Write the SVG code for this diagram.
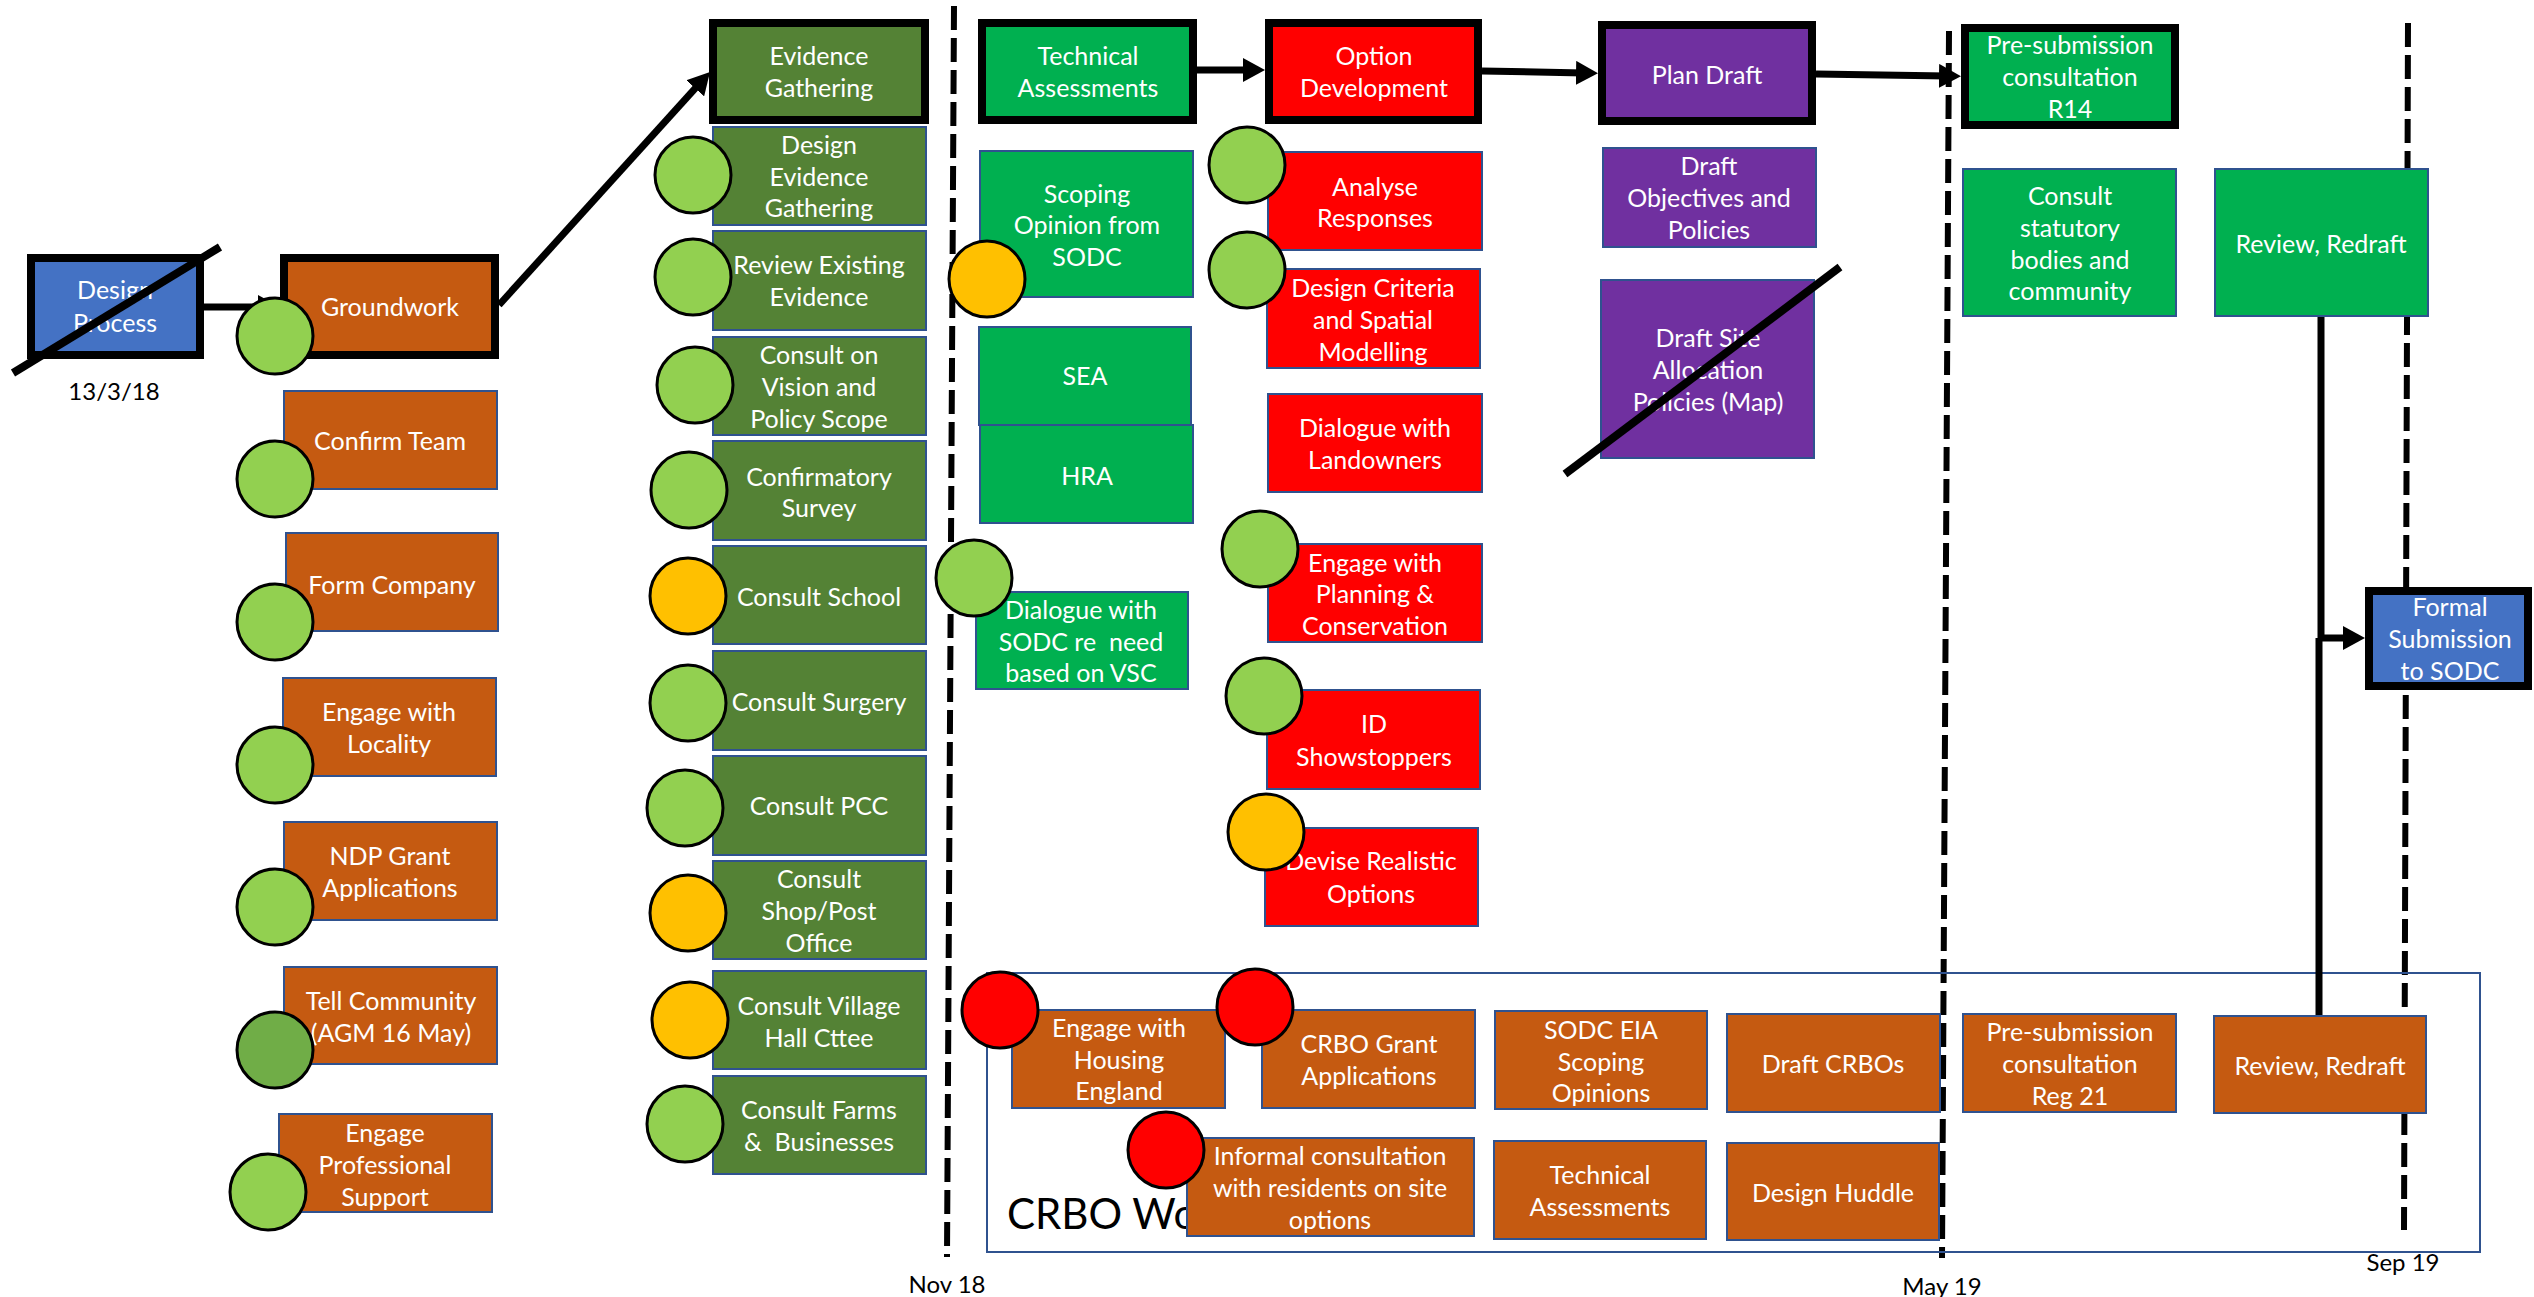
<svg xmlns="http://www.w3.org/2000/svg" width="2534" height="1297" viewBox="0 0 2534 1297">
<style>
.thick{stroke:#000;stroke-width:8}
.sub{stroke:#2F528F;stroke-width:2}
.dot{stroke:#000;stroke-width:3}
.or{fill:#C55A11}.dg{fill:#548235}.gr{fill:#00B050}.rd{fill:#FF0000}.pu{fill:#7030A0}.bl{fill:#4472C4}
.cg{fill:#92D050}.cdg{fill:#70AD47}.co{fill:#FFC000}.cr{fill:#FF0000}
.t{fill:#fff;font-family:Lato,'Open Sans','Liberation Sans',sans-serif;font-size:25px;text-anchor:middle;white-space:pre}
.lbl{fill:#000;font-family:Lato,'Open Sans','Liberation Sans',sans-serif;font-size:24px;text-anchor:middle}
.dash{stroke:#000;stroke-width:6;stroke-dasharray:24 8;fill:none}
.conn{stroke:#000;stroke-width:7;fill:none}
.strike{stroke:#000;stroke-width:8}
</style>
<defs>
<marker id="ah" markerUnits="userSpaceOnUse" markerWidth="22" markerHeight="24" viewBox="0 0 22 24" refX="8" refY="12" orient="auto"><path d="M0,0 L22,12 L0,24 z" fill="#000"/></marker>
</defs>
<rect width="2534" height="1297" fill="#fff"/>
<g id="timelines">
<line class="dash" x1="954" y1="6" x2="947" y2="1257"/>
<line class="dash" x1="1949" y1="31" x2="1942" y2="1258"/>
<line class="dash" x1="2408" y1="23" x2="2404" y2="1230"/>
<text class="lbl" x="114" y="400" font-size="25">13/3/18</text>
<text class="lbl" x="947" y="1293">Nov 18</text>
<text class="lbl" x="1942" y="1295">May 19</text>
<text class="lbl" x="2403" y="1271">Sep 19</text>
</g>
<g id="crbo-work">
<rect x="987" y="973" width="1493" height="279" fill="none" stroke="#2F528F" stroke-width="2"/>
<text x="1007" y="1229" font-family="Lato,'Open Sans','Liberation Sans',sans-serif" font-size="42" fill="#000">CRBO Wo</text>
</g>
<g id="connectors">
<line class="conn" x1="204" y1="307" x2="266" y2="307" marker-end="url(#ah)"/>
<line class="conn" x1="499" y1="305" x2="700.6" y2="82.4" marker-end="url(#ah)"/>
<line class="conn" x1="1197" y1="70" x2="1251" y2="70" marker-end="url(#ah)"/>
<line class="conn" x1="1482" y1="71" x2="1584" y2="73" marker-end="url(#ah)"/>
<line class="conn" x1="1816" y1="74" x2="1947" y2="76" marker-end="url(#ah)"/>
<path class="conn" d="M2321,316 V638 H2351" marker-end="url(#ah)"/>
<path class="conn" d="M2319,1016 V638"/>
</g>
<g id="design-process"><rect class="thick bl" x="31" y="258" width="169" height="97"/><text class="t"><tspan x="115" y="299">Design</tspan><tspan x="115" y="332">Process</tspan></text></g>
<g id="groundwork"><rect class="thick or" x="284" y="258" width="211" height="97"/><text class="t" x="390" y="316">Groundwork</text><circle class="dot cg" cx="275" cy="336" r="38"/></g>
<g id="confirm-team"><rect class="sub or" x="284" y="391" width="213" height="98"/><text class="t" x="390" y="450">Confirm Team</text><circle class="dot cg" cx="275" cy="479" r="38"/></g>
<g id="form-company"><rect class="sub or" x="286" y="533" width="212" height="98"/><text class="t" x="392" y="594">Form Company</text><circle class="dot cg" cx="275" cy="622" r="38"/></g>
<g id="engage-locality"><rect class="sub or" x="283" y="678" width="213" height="98"/><text class="t"><tspan x="389" y="721">Engage with</tspan><tspan x="389" y="753">Locality</tspan></text><circle class="dot cg" cx="275" cy="765" r="38"/></g>
<g id="ndp-grant"><rect class="sub or" x="284" y="822" width="213" height="98"/><text class="t"><tspan x="390" y="865">NDP Grant</tspan><tspan x="390" y="897">Applications</tspan></text><circle class="dot cg" cx="275" cy="907" r="38"/></g>
<g id="tell-community"><rect class="sub or" x="284" y="967" width="213" height="97"/><text class="t"><tspan x="391" y="1010">Tell Community</tspan><tspan x="391" y="1042">(AGM 16 May)</tspan></text><circle class="dot cdg" cx="275" cy="1050" r="38"/></g>
<g id="engage-professional"><rect class="sub or" x="279" y="1114" width="213" height="98"/><text class="t"><tspan x="385" y="1142">Engage</tspan><tspan x="385" y="1174">Professional</tspan><tspan x="385" y="1206">Support</tspan></text><circle class="dot cg" cx="268" cy="1192" r="38"/></g>
<g id="evidence-gathering"><rect class="thick dg" x="713" y="23" width="212" height="97"/><text class="t"><tspan x="819" y="65">Evidence</tspan><tspan x="819" y="97">Gathering</tspan></text></g>
<g id="design-evidence"><rect class="sub dg" x="713" y="127" width="213" height="98"/><text class="t"><tspan x="819" y="154">Design</tspan><tspan x="819" y="186">Evidence</tspan><tspan x="819" y="217">Gathering</tspan></text><circle class="dot cg" cx="693" cy="175" r="38"/></g>
<g id="review-existing"><rect class="sub dg" x="713" y="231" width="213" height="99"/><text class="t"><tspan x="819" y="274">Review Existing</tspan><tspan x="819" y="306">Evidence</tspan></text><circle class="dot cg" cx="693" cy="277" r="38"/></g>
<g id="consult-vision"><rect class="sub dg" x="713" y="337" width="213" height="98"/><text class="t"><tspan x="819" y="364">Consult on</tspan><tspan x="819" y="396">Vision and</tspan><tspan x="819" y="428">Policy Scope</tspan></text><circle class="dot cg" cx="695" cy="385" r="38"/></g>
<g id="confirmatory-survey"><rect class="sub dg" x="713" y="441" width="213" height="99"/><text class="t"><tspan x="819" y="486">Confirmatory</tspan><tspan x="819" y="517">Survey</tspan></text><circle class="dot cg" cx="689" cy="490" r="38"/></g>
<g id="consult-school"><rect class="sub dg" x="713" y="546" width="213" height="98"/><text class="t" x="819" y="606">Consult School</text><circle class="dot co" cx="688" cy="596" r="38"/></g>
<g id="consult-surgery"><rect class="sub dg" x="713" y="651" width="213" height="99"/><text class="t" x="819" y="711">Consult Surgery</text><circle class="dot cg" cx="688" cy="703" r="38"/></g>
<g id="consult-pcc"><rect class="sub dg" x="713" y="756" width="213" height="99"/><text class="t" x="819" y="815">Consult PCC</text><circle class="dot cg" cx="685" cy="808" r="38"/></g>
<g id="consult-shop"><rect class="sub dg" x="713" y="861" width="213" height="98"/><text class="t"><tspan x="819" y="888">Consult</tspan><tspan x="819" y="920">Shop/Post</tspan><tspan x="819" y="952">Office</tspan></text><circle class="dot co" cx="688" cy="913" r="38"/></g>
<g id="consult-village-hall"><rect class="sub dg" x="713" y="971" width="213" height="98"/><text class="t"><tspan x="819" y="1015">Consult Village</tspan><tspan x="819" y="1047">Hall Cttee</tspan></text><circle class="dot co" cx="690" cy="1020" r="38"/></g>
<g id="consult-farms"><rect class="sub dg" x="713" y="1076" width="213" height="98"/><text class="t"><tspan x="819" y="1119">Consult Farms</tspan><tspan x="819" y="1151">&amp;  Businesses</tspan></text><circle class="dot cg" cx="685" cy="1124" r="38"/></g>
<g id="technical-assessments"><rect class="thick gr" x="982" y="23" width="211" height="97"/><text class="t"><tspan x="1088" y="65">Technical</tspan><tspan x="1088" y="97">Assessments</tspan></text></g>
<g id="scoping-opinion"><rect class="sub gr" x="980" y="151" width="213" height="146"/><text class="t"><tspan x="1087" y="203">Scoping</tspan><tspan x="1087" y="234">Opinion from</tspan><tspan x="1087" y="266">SODC</tspan></text><circle class="dot co" cx="987" cy="279" r="38"/></g>
<g id="sea"><rect class="sub gr" x="979" y="327" width="212" height="98"/><text class="t" x="1085" y="385">SEA</text></g>
<g id="hra"><rect class="sub gr" x="980" y="425" width="213" height="98"/><text class="t" x="1087" y="485">HRA</text></g>
<g id="dialogue-sodc"><rect class="sub gr" x="976" y="592" width="212" height="97"/><text class="t"><tspan x="1081" y="619">Dialogue with</tspan><tspan x="1081" y="651">SODC re  need</tspan><tspan x="1081" y="682">based on VSC</tspan></text><circle class="dot cg" cx="974" cy="578" r="38"/></g>
<g id="option-development"><rect class="thick rd" x="1269" y="23" width="209" height="97"/><text class="t"><tspan x="1374" y="65">Option</tspan><tspan x="1374" y="97">Development</tspan></text></g>
<g id="analyse-responses"><rect class="sub rd" x="1268" y="152" width="214" height="98"/><text class="t"><tspan x="1375" y="196">Analyse</tspan><tspan x="1375" y="227">Responses</tspan></text><circle class="dot cg" cx="1247" cy="165" r="38"/></g>
<g id="design-criteria"><rect class="sub rd" x="1267" y="269" width="213" height="99"/><text class="t"><tspan x="1373" y="297">Design Criteria</tspan><tspan x="1373" y="329">and Spatial</tspan><tspan x="1373" y="361">Modelling</tspan></text><circle class="dot cg" cx="1247" cy="270" r="38"/></g>
<g id="dialogue-landowners"><rect class="sub rd" x="1268" y="394" width="214" height="98"/><text class="t"><tspan x="1375" y="437">Dialogue with</tspan><tspan x="1375" y="469">Landowners</tspan></text></g>
<g id="engage-planning"><rect class="sub rd" x="1268" y="544" width="214" height="98"/><text class="t"><tspan x="1375" y="572">Engage with</tspan><tspan x="1375" y="603">Planning &amp;</tspan><tspan x="1375" y="635">Conservation</tspan></text><circle class="dot cg" cx="1260" cy="549" r="38"/></g>
<g id="id-showstoppers"><rect class="sub rd" x="1267" y="690" width="213" height="99"/><text class="t"><tspan x="1374" y="733">ID</tspan><tspan x="1374" y="766">Showstoppers</tspan></text><circle class="dot cg" cx="1264" cy="696" r="38"/></g>
<g id="devise-options"><rect class="sub rd" x="1265" y="828" width="213" height="98"/><text class="t"><tspan x="1371" y="870">Devise Realistic</tspan><tspan x="1371" y="903">Options</tspan></text><circle class="dot co" cx="1266" cy="832" r="38"/></g>
<g id="plan-draft"><rect class="thick pu" x="1602" y="25" width="210" height="96"/><text class="t" x="1707" y="84">Plan Draft</text></g>
<g id="draft-objectives"><rect class="sub pu" x="1603" y="148" width="213" height="99"/><text class="t"><tspan x="1709" y="175">Draft</tspan><tspan x="1709" y="207">Objectives and</tspan><tspan x="1709" y="239">Policies</tspan></text></g>
<g id="draft-site-allocation"><rect class="sub pu" x="1601" y="280" width="213" height="178"/><text class="t"><tspan x="1708" y="347">Draft Site</tspan><tspan x="1708" y="379">Allocation</tspan><tspan x="1708" y="411">Policies (Map)</tspan></text></g>
<g id="presub-r14"><rect class="thick gr" x="1965" y="28" width="210" height="97"/><text class="t"><tspan x="2070" y="54">Pre-submission</tspan><tspan x="2070" y="86">consultation</tspan><tspan x="2070" y="118">R14</tspan></text></g>
<g id="consult-statutory"><rect class="sub gr" x="1963" y="169" width="213" height="147"/><text class="t"><tspan x="2070" y="205">Consult</tspan><tspan x="2070" y="237">statutory</tspan><tspan x="2070" y="269">bodies and</tspan><tspan x="2070" y="300">community</tspan></text></g>
<g id="review-redraft-green"><rect class="sub gr" x="2215" y="169" width="213" height="147"/><text class="t" x="2321" y="253">Review, Redraft</text></g>
<g id="formal-submission"><rect class="thick bl" x="2369" y="591" width="159" height="95"/><text class="t"><tspan x="2450" y="616">Formal</tspan><tspan x="2450" y="648">Submission</tspan><tspan x="2450" y="680">to SODC</tspan></text></g>
<g id="engage-housing"><rect class="sub or" x="1012" y="1010" width="213" height="98"/><text class="t"><tspan x="1119" y="1037">Engage with</tspan><tspan x="1119" y="1069">Housing</tspan><tspan x="1119" y="1100">England</tspan></text><circle class="dot cr" cx="1000" cy="1010" r="38"/></g>
<g id="crbo-grant"><rect class="sub or" x="1262" y="1010" width="213" height="98"/><text class="t"><tspan x="1369" y="1053">CRBO Grant</tspan><tspan x="1369" y="1085">Applications</tspan></text><circle class="dot cr" cx="1255" cy="1007" r="38"/></g>
<g id="informal-consultation"><rect class="sub or" x="1187" y="1138" width="287" height="98"/><text class="t"><tspan x="1330" y="1165">Informal consultation</tspan><tspan x="1330" y="1197">with residents on site</tspan><tspan x="1330" y="1229">options</tspan></text><circle class="dot cr" cx="1166" cy="1150" r="38"/></g>
<g id="sodc-eia"><rect class="sub or" x="1495" y="1011" width="212" height="98"/><text class="t"><tspan x="1601" y="1039">SODC EIA</tspan><tspan x="1601" y="1071">Scoping</tspan><tspan x="1601" y="1102">Opinions</tspan></text></g>
<g id="technical-assessments-crbo"><rect class="sub or" x="1494" y="1141" width="212" height="98"/><text class="t"><tspan x="1600" y="1184">Technical</tspan><tspan x="1600" y="1216">Assessments</tspan></text></g>
<g id="draft-crbos"><rect class="sub or" x="1727" y="1014" width="213" height="98"/><text class="t" x="1833" y="1073">Draft CRBOs</text></g>
<g id="design-huddle"><rect class="sub or" x="1727" y="1143" width="212" height="97"/><text class="t" x="1833" y="1202">Design Huddle</text></g>
<g id="presub-reg21"><rect class="sub or" x="1963" y="1014" width="213" height="98"/><text class="t"><tspan x="2070" y="1041">Pre-submission</tspan><tspan x="2070" y="1073">consultation</tspan><tspan x="2070" y="1105">Reg 21</tspan></text></g>
<g id="review-redraft-orange"><rect class="sub or" x="2214" y="1016" width="212" height="97"/><text class="t" x="2320" y="1075">Review, Redraft</text></g>
<g id="strikes">
<line class="strike" x1="13" y1="373" x2="220" y2="247"/>
<line class="strike" x1="1565" y1="474" x2="1840" y2="267"/>
</g>
</svg>
